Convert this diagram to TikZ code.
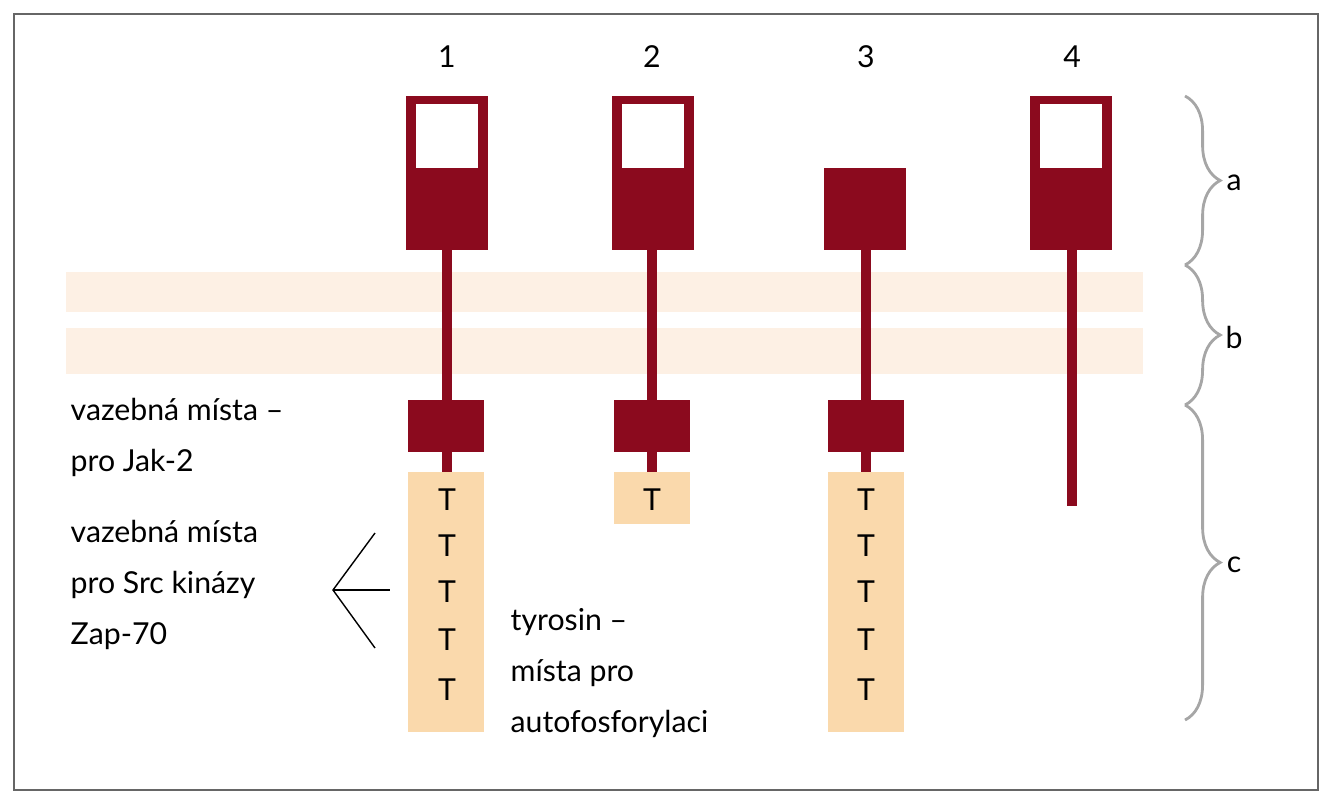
\documentclass[tikz,border=0pt]{standalone}
\usepackage{fontspec}
\setmainfont{Lato}
\usetikzlibrary{decorations.pathreplacing}
\definecolor{rcp}{HTML}{8B0A1E}
\definecolor{memb}{HTML}{FDF0E4}
\definecolor{tyr}{HTML}{FAD9AC}
\tikzset{
  lbl/.style={font=\fontsize{8.6}{10.5}\selectfont, inner sep=0pt},
  brc/.style={draw=gray!70, thick, decorate, decoration={brace, amplitude=10pt}},
}
\begin{document}
\begin{tikzpicture}[x=0.01cm,y=-0.01cm]
\useasboundingbox (0,0) rectangle (1331,800);
\draw[gray!80!black] (14,14) rectangle (1318,790);
% membrane
\fill[memb] (66,272) rectangle (1143,312);
\fill[memb] (66,328) rectangle (1143,374);
% receptor 1
\fill[rcp] (442,250) rectangle (452,472);
\fill[rcp] (406,96) rectangle (488,250);
\fill[white] (416,104) rectangle (478,168);
\fill[rcp] (408,400) rectangle (484,452);
\fill[tyr] (408,472) rectangle (484,732);
% receptor 2
\fill[rcp] (647,250) rectangle (657,472);
\fill[rcp] (612,96) rectangle (694,250);
\fill[white] (622,104) rectangle (684,168);
\fill[rcp] (614,400) rectangle (690,452);
\fill[tyr] (614,472) rectangle (690,524);
% receptor 3
\fill[rcp] (861,250) rectangle (871,472);
\fill[rcp] (824,168) rectangle (906,250);
\fill[rcp] (828,400) rectangle (904,452);
\fill[tyr] (828,472) rectangle (904,732);
% receptor 4
\fill[rcp] (1067,250) rectangle (1077,506);
\fill[rcp] (1030,96) rectangle (1112,250);
\fill[white] (1040,104) rectangle (1102,168);
% numbers
\node[lbl] (n1) at (447,57) {1};
\node[lbl] (n2) at (652,57) {2};
\node[lbl] (n3) at (866,57) {3};
\node[lbl] (n4) at (1072,57) {4};
% tyrosines
\foreach \y [count=\i] in {500,546,592,640,690} {
  \node[lbl] (ta\i) at (447,\y) {T};
  \node[lbl] (tc\i) at (866,\y) {T};
}
\node[lbl] (tb1) at (652,500) {T};
% braces
\draw[brc] (1185,96) -- (1185,265);
\draw[brc] (1185,265) -- (1185,405);
\draw[brc] (1185,405) -- (1185,720);
\node[lbl] (a) at (1234,183) {a};
\node[lbl] (b) at (1234,337) {b};
\node[lbl] (c) at (1234,565) {c};
% labels
\node[lbl, anchor=west, align=left] (jak) at (70,437) {vazebná místa –\\[4pt]pro Jak-2};
\node[lbl, anchor=west, align=left] (src) at (70,585) {vazebná místa\\[4pt]pro Src kinázy\\[4pt]Zap-70};
\node[lbl, anchor=west, align=left] (tyrtxt) at (510,673) {tyrosin –\\[4pt]místa pro\\[4pt]autofosforylaci};
\coordinate (fork) at (333,590);
\draw (375,533) -- (fork) -- (375,648);
\draw (fork) -- (390,590);
\end{tikzpicture}
\end{document}
